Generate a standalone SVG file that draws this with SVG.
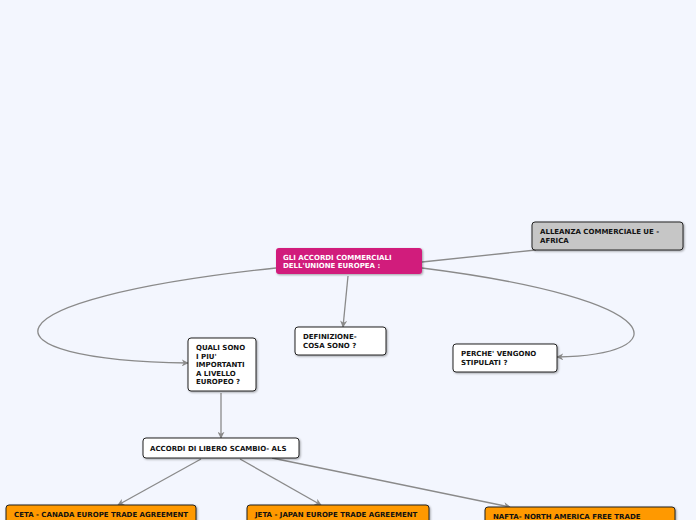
<svg xmlns="http://www.w3.org/2000/svg" width="696" height="520" viewBox="0 0 696 520">
<defs>
<marker id="arr" viewBox="0 0 10 10" refX="9" refY="5" markerWidth="7" markerHeight="7" orient="auto" markerUnits="userSpaceOnUse">
<path d="M0,0 L10,5 L0,10 L3,5 Z" fill="#8a8a8a"/>
</marker>
<filter id="sh" x="-10%" y="-10%" width="130%" height="140%">
<feDropShadow dx="1" dy="1" stdDeviation="0.8" flood-color="#000" flood-opacity="0.35"/>
</filter>
</defs>
<style>
.c{fill:none;stroke:#8a8a8a;stroke-width:1.3}
.n{stroke:#222;stroke-width:1;filter:url(#sh)}
.t{font-family:"DejaVu Sans",Verdana,sans-serif;font-size:7px;font-weight:bold;fill:#111}
.w{fill:#fff}
</style>
<rect width="696" height="520" fill="#f3f6fe"/>
<g id="connectors">
<path class="c" d="M422,262 L536,250"/>
<path class="c" d="M348,276 L343,327" marker-end="url(#arr)"/>
<path class="c" d="M276,268 C-25,300 -25,360 188,363" marker-end="url(#arr)"/>
<path class="c" d="M422,268 C676,300 676,355 557,357" marker-end="url(#arr)"/>
<path class="c" d="M221,393 L221,438" marker-end="url(#arr)"/>
<path class="c" d="M201,459 L118,505" marker-end="url(#arr)"/>
<path class="c" d="M240,459 L321,505" marker-end="url(#arr)"/>
<path class="c" d="M272,458 L510,507" marker-end="url(#arr)"/>
</g>
<g id="central">
<rect x="276" y="248" width="146" height="26" rx="3" fill="#d11b7b" filter="url(#sh)"/>
<text class="t w" x="283" y="260">GLI ACCORDI COMMERCIALI</text>
<text class="t w" x="283" y="268">DELL'UNIONE EUROPEA :</text>
</g>
<g id="alleanza">
<rect class="n" x="532" y="222" width="151" height="28" rx="3" fill="#c6c6c6"/>
<text class="t" x="540" y="234">ALLEANZA COMMERCIALE UE -</text>
<text class="t" x="540" y="243">AFRICA</text>
</g>
<g id="definizione">
<rect class="n" x="295" y="327" width="91" height="28" rx="3" fill="#fff"/>
<text class="t" x="303" y="339">DEFINIZIONE-</text>
<text class="t" x="303" y="348">COSA SONO ?</text>
</g>
<g id="quali">
<rect class="n" x="188" y="338" width="68" height="53" rx="3" fill="#fff"/>
<text class="t" x="196" y="350">QUALI SONO</text>
<text class="t" x="196" y="358.5">I PIU'</text>
<text class="t" x="196" y="367">IMPORTANTI</text>
<text class="t" x="196" y="375.5">A LIVELLO</text>
<text class="t" x="196" y="384">EUROPEO ?</text>
</g>
<g id="perche">
<rect class="n" x="453" y="344" width="104" height="28" rx="3" fill="#fff"/>
<text class="t" x="461" y="356">PERCHE' VENGONO</text>
<text class="t" x="461" y="365">STIPULATI ?</text>
</g>
<g id="accordi">
<rect class="n" x="143" y="438" width="156" height="20" rx="3" fill="#fff"/>
<text class="t" x="150" y="451">ACCORDI DI LIBERO SCAMBIO- ALS</text>
</g>
<g id="ceta">
<rect class="n" x="6" y="505" width="190" height="22" rx="3" fill="#ff9900"/>
<text class="t" x="14" y="517">CETA - CANADA EUROPE TRADE AGREEMENT</text>
</g>
<g id="jeta">
<rect class="n" x="247" y="505" width="182" height="22" rx="3" fill="#ff9900"/>
<text class="t" x="255" y="517">JETA - JAPAN EUROPE TRADE AGREEMENT</text>
</g>
<g id="nafta">
<rect class="n" x="485" y="507" width="190" height="22" rx="3" fill="#ff9900"/>
<text class="t" x="493" y="519">NAFTA- NORTH AMERICA FREE TRADE</text>
</g>
</svg>
